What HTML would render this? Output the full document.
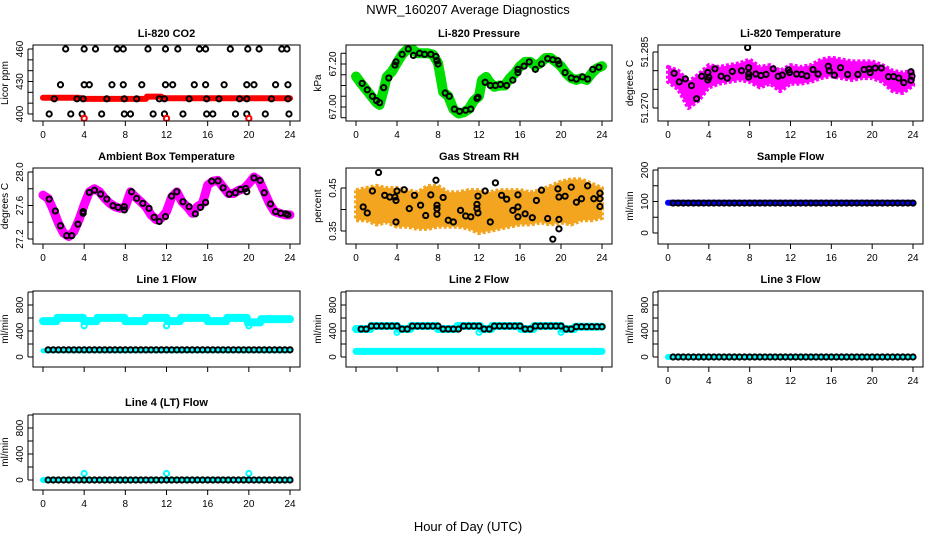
<!DOCTYPE html>
<html><head><meta charset="utf-8"><style>
body{margin:0;background:#fff}
svg{display:block;font-family:"Liberation Sans",sans-serif}
</style></head><body>
<svg id="c" width="936" height="540" viewBox="0 0 936 540"></svg>
<script>
// ---------- data ----------
const H=[0.5,1,1.5,2,2.5,3,3.5,4,4.5,5,5.5,6,6.5,7,7.5,8,8.5,9,9.5,10,10.5,11,11.5,12,12.5,13,13.5,14,14.5,15,15.5,16,16.5,17,17.5,18,18.5,19,19.5,20,20.5,21,21.5,22,22.5,23,23.5,24];
// CO2
const co2RedHours=[0,3.5,4,10,10.1,11.5,11.6,24];
const co2RedVals=[415,415,414,414,416,416,414.5,414.5];
const co2BlkHours=[2.2,4.0,5.1,7.2,7.8,10.2,11.9,13.1,15.2,15.8,18.2,19.9,21.0,23.2,23.7,1.7,4.0,4.5,6.7,7.8,9.6,11.9,12.6,14.7,15.8,17.6,19.8,20.5,22.6,23.8,1.1,3.3,3.9,6.2,7.9,9.1,11.3,11.8,14.2,15.9,17.1,19.1,19.8,22.2,23.8,0.6,2.7,3.8,5.7,7.9,8.5,10.7,11.8,13.6,15.9,16.5,18.7,19.8,21.6,23.9];
const co2BlkVals=[460,460,460,460,460,460,460,460,460,460,460,460,460,460,460,427,427,427,427,427,427,427,427,427,427,427,427,427,427,427,414,414,414,414,414,414,414,414,414,414,414,414,414,414,414,400,400,400,400,400,400,400,400,400,400,400,400,400,400,400];
const co2OutHours=[4,12,20];
const co2OutVals=[396,396,396];
// Pressure
const prHours=[0,0.5,1,1.5,2,2.3,2.7,3,3.5,4,4.5,5,5.5,6,6.5,7,7.5,8,8.3,8.5,9,9.5,10,10.5,11,11.5,12,12.3,12.7,13,13.5,14,14.5,15,15.5,16,16.5,17,17.5,18,18.5,19,19.5,20,20.5,21,21.5,22,22.5,23,23.5,24];
const prVals=[67.142,67.11,67.08,67.05,67.02,67.01,67.08,67.14,67.165,67.205,67.244,67.268,67.268,67.25,67.25,67.25,67.244,67.205,67.126,67.07,67.05,66.99,66.97,66.975,66.99,67.03,67.05,67.126,67.14,67.118,67.094,67.10,67.10,67.134,67.157,67.19,67.21,67.21,67.19,67.205,67.228,67.228,67.21,67.19,67.157,67.134,67.126,67.134,67.126,67.157,67.18,67.19];
const prBlkHours=[0.6,1.1,1.6,2.0,2.3,2.7,3.2,3.8,3.9,4.5,5.1,5.6,6.2,6.7,7.3,7.8,7.9,8.0,8.7,9.1,9.6,10.1,10.7,11.2,11.8,11.9,12.6,13.1,13.6,14.1,14.7,15.3,15.8,15.8,16.4,16.9,17.5,18.1,18.7,19.2,19.7,19.8,20.4,21.0,21.5,22.1,22.6,23.1,23.7];
const prBlkVals=[67.11,67.08,67.05,67.03,67.02,67.09,67.135,67.195,67.21,67.245,67.27,67.24,67.25,67.245,67.245,67.235,67.215,67.20,67.065,67.05,66.99,66.98,66.985,66.99,67.04,67.045,67.115,67.1,67.1,67.105,67.1,67.125,67.16,67.175,67.19,67.21,67.175,67.2,67.225,67.22,67.215,67.20,67.16,67.135,67.13,67.14,67.13,67.175,67.185];
// Li-820 temperature
const tHours=[0,1,2,3,4,5,6,7,8,9,10,11,12,13,14,15,16,17,18,19,20,21,22,23,24];
const tHi=[51.2810,51.2800,51.2770,51.2790,51.2815,51.2810,51.2815,51.2820,51.2830,51.2810,51.2815,51.2800,51.2815,51.2810,51.2815,51.2830,51.2835,51.2830,51.2825,51.2825,51.2825,51.2815,51.2800,51.2795,51.2800];
const tLo=[51.2770,51.2750,51.2700,51.2720,51.2755,51.2765,51.2770,51.2775,51.2770,51.2755,51.2765,51.2745,51.2765,51.2765,51.2770,51.2780,51.2785,51.2780,51.2775,51.2780,51.2780,51.2770,51.2745,51.2740,51.2760];
const tBlkHours=[0.6,1.1,1.7,2.3,2.8,3.3,3.9,3.9,4.0,4.6,5.2,5.8,6.3,7.2,7.8,7.9,7.9,7.9,8.6,9.1,9.6,10.3,10.8,11.2,11.8,11.9,12.6,13.1,13.6,14.2,14.7,15.7,15.8,16.3,16.9,17.6,18.6,19.2,19.7,19.8,20.3,20.9,21.6,22.1,22.6,23.1,23.8,23.9,23.8];
const tBlkVals=[51.2793,51.2770,51.2778,51.2760,51.2725,51.2785,51.2775,51.2795,51.2782,51.2805,51.2785,51.2780,51.2798,51.2800,51.2862,51.2808,51.2791,51.2783,51.2791,51.2787,51.2790,51.2805,51.2785,51.2788,51.2802,51.2795,51.2791,51.2790,51.2786,51.2803,51.2791,51.2812,51.2800,51.2788,51.2808,51.2790,51.2790,51.2803,51.2805,51.2795,51.2807,51.2807,51.2784,51.2784,51.2780,51.2768,51.2797,51.2785,51.2774];
// Ambient box temperature
const abHours=[0,0.5,1,1.5,2,2.5,3,3.5,4,4.5,5,5.5,6,6.5,7,7.5,8,8.5,9,9.5,10,10.5,11,11.5,12,12.5,13,13.5,14,14.5,15,15.5,16,16.5,17,17.5,18,18.5,19,19.5,20,20.5,21,21.5,22,22.5,23,23.5,24];
const abVals=[27.724,27.685,27.547,27.389,27.27,27.23,27.29,27.43,27.606,27.763,27.80,27.763,27.685,27.626,27.586,27.566,27.586,27.763,27.70,27.645,27.586,27.488,27.43,27.45,27.527,27.70,27.763,27.645,27.586,27.507,27.586,27.626,27.842,27.89,27.90,27.82,27.744,27.744,27.78,27.80,27.862,27.94,27.90,27.763,27.626,27.527,27.507,27.488,27.488];
const abBlkHours=[0.6,1.2,1.7,2.3,2.8,3.4,3.9,3.9,4.5,5.0,5.6,6.2,6.8,7.3,7.9,7.9,8.6,9.1,9.7,10.3,10.8,11.3,11.9,12.5,13.0,13.6,14.2,14.8,15.3,15.8,16.4,17.0,17.5,18.1,18.7,19.2,19.7,19.8,20.5,21.1,21.5,22.1,22.6,23.1,23.6,23.8];
const abBlkVals=[27.677,27.535,27.358,27.24,27.24,27.377,27.527,27.507,27.756,27.783,27.736,27.677,27.598,27.578,27.586,27.547,27.764,27.685,27.626,27.566,27.46,27.409,27.468,27.712,27.764,27.645,27.586,27.50,27.578,27.637,27.89,27.894,27.811,27.736,27.752,27.791,27.803,27.764,27.929,27.90,27.752,27.618,27.527,27.507,27.50,27.488];
// Gas stream RH
const rhHours=[0,1,2,3,4,5,6,7,8,9,10,11,12,13,14,15,16,17,18,19,20,21,22,23,24];
const rhHi=[0.445,0.450,0.455,0.450,0.450,0.445,0.440,0.455,0.455,0.440,0.440,0.445,0.445,0.440,0.445,0.445,0.445,0.440,0.445,0.455,0.465,0.470,0.470,0.460,0.450];
const rhLo=[0.375,0.375,0.365,0.370,0.360,0.360,0.355,0.355,0.360,0.360,0.360,0.355,0.345,0.350,0.355,0.360,0.365,0.365,0.370,0.365,0.370,0.365,0.375,0.375,0.380];
const rhBlkHours=[0.7,1.1,1.6,2.2,2.8,3.3,3.8,3.9,3.9,4.0,4.7,5.2,5.7,6.3,6.8,7.3,7.8,7.9,7.9,7.9,8.5,9.0,9.5,10.2,10.7,11.2,11.8,11.8,11.9,11.9,12.6,13.1,13.6,14.2,14.7,15.3,15.8,15.8,15.8,16.5,17.2,17.6,18.1,18.7,19.2,19.7,19.8,19.8,19.8,20.4,21.0,21.5,22.0,22.6,23.2,23.8,23.8,23.8];
const rhBlkVals=[0.406,0.392,0.443,0.486,0.433,0.429,0.429,0.421,0.371,0.443,0.446,0.402,0.433,0.410,0.386,0.434,0.468,0.410,0.402,0.389,0.428,0.375,0.371,0.398,0.385,0.383,0.412,0.402,0.392,0.431,0.443,0.371,0.462,0.433,0.424,0.398,0.434,0.406,0.383,0.390,0.381,0.421,0.445,0.379,0.331,0.448,0.429,0.377,0.355,0.431,0.452,0.417,0.425,0.455,0.425,0.425,0.407,0.438];
// Sample flow
const sfBlueHours=[0,24];
const sfBlueVals=[96,96];
const sfBlkVals=[95,95,95,95,95,95,95,95,95,95,95,95,95,95,95,95,95,95,95,95,95,95,95,95,95,95,95,95,95,95,95,95,95,95,95,95,95,95,95,95,95,95,95,95,95,95,95,95];
// Line 1 flow
const l1Hours=[0,1.3,1.4,3.9,4.0,5.2,5.3,7.9,8.0,9.9,10.0,12.0,12.1,13.3,13.4,15.9,16.0,17.8,17.9,19.8,19.9,21.1,21.2,24];
const l1Vals=[552,552,602,602,552,552,602,602,552,552,602,602,552,552,602,602,552,552,602,602,532,532,582,582];
const l1LowHours=[0,24];
const l1LowVals=[96,96];
const l1BlkVals=[110,110,110,110,110,110,110,110,110,110,110,110,110,110,110,110,110,110,110,110,110,110,110,110,110,110,110,110,110,110,110,110,110,110,110,110,110,110,110,110,110,110,110,110,110,110,110,110];
const l1OutHours=[4,12,20];
const l1OutVals=[480,480,480];
// Line 2 flow
const l2Hours=[0,1.4,1.5,4.0,4.1,5.3,5.4,7.9,8.0,9.8,9.9,12.1,12.2,13.2,13.3,16.0,16.1,17.3,17.4,20.0,20.1,21.3,21.4,24];
const l2Vals=[430,430,476,476,430,430,476,476,430,430,476,476,430,430,476,476,430,430,476,476,430,430,466,466];
const l2LowHours=[0,24];
const l2LowVals=[86,86];
const l2BlkVals=[430,430,476,476,476,476,476,476,430,430,476,476,476,476,476,476,430,430,430,430,476,476,476,476,430,430,476,476,476,476,476,476,430,430,476,476,476,476,476,476,430,430,466,466,466,466,466,466];
const l2OutHours=[4,12,20];
const l2OutVals=[380,380,380];
// Line 3 / Line 4
const zeroHours=[0,24];
const zeroVals=[0,0];
const l3BlkVals=[0,0,0,0,0,0,0,0,0,0,0,0,0,0,0,0,0,0,0,0,0,0,0,0,0,0,0,0,0,0,0,0,0,0,0,0,0,0,0,0,0,0,0,0,0,0,0,0];
const l4BlkVals=[0,0,0,0,0,0,0,0,0,0,0,0,0,0,0,0,0,0,0,0,0,0,0,0,0,0,0,0,0,0,0,0,0,0,0,0,0,0,0,0,0,0,0,0,0,0,0,0];
const l4OutHours=[4,12,20];
const l4OutVals=[100,100,100];
const xTicks=[0,4,8,12,16,20,24];

// ---------- drawing ----------
const NS='http://www.w3.org/2000/svg';
const svg=document.getElementById('c');
function mk(tag,attrs,parent){const e=document.createElementNS(NS,tag);for(const k in attrs)e.setAttribute(k,attrs[k]);(parent||svg).appendChild(e);return e;}
const cols=[[33,300],[346,612],[658,923]];
const rows=[[45,121],[168,244],[291,367],[414,490]];
let clipN=0;
function panel(c,r,title,ylab,ySpec,opts){
  const [L,R]=cols[c],[T,B]=rows[r];
  const g=mk('g',{});
  
  
  const xs=h=>L+10+h*(R-L-20)/24;
  const ys=v=>ySpec.p1+(v-ySpec.v1)*(ySpec.p2-ySpec.p1)/(ySpec.v2-ySpec.v1)+T;
  const id='cl'+(clipN++);
  const cp=mk('clipPath',{id:id},g);mk('rect',{x:L,y:T,width:R-L,height:B-T},cp);
  const plot=mk('g',{'clip-path':'url(#'+id+')'},g);
  
  
  const api={
    line(hs,vs,color,w,name){const p=mk('polyline',{points:hs.map((h,i)=>xs(h)+','+ys(vs[i])).join(' '),fill:'none',stroke:color,'stroke-width':w,'stroke-linejoin':'round','stroke-linecap':'round'},plot);
      
      },
    band(hs,lo,hi,color,name){const pts=hs.map((h,i)=>xs(h)+','+ys(hi[i])).concat(hs.slice().reverse().map((h,i)=>xs(h)+','+ys(lo[hs.length-1-i])));
      const p=mk('polygon',{points:pts.join(' '),fill:color,stroke:color,'stroke-width':4,'stroke-linejoin':'round','stroke-dasharray':'3 2'},plot);
      
      },
    pts(hs,vs,color,name,rr,sw){const gg=mk('g',{},plot);
      
      
      hs.forEach((h,i)=>{const e=mk('circle',{cx:xs(h),cy:ys(vs[i]),r:rr||2.6,fill:'none',stroke:color,'stroke-width':sw||2},gg);
        
        });}
  };
  opts.draw(api);
  const bx=mk('rect',{x:L,y:T,width:R-L,height:B-T,fill:'none',stroke:'#000','stroke-width':1},g);
  
  
  const xa=mk('g',{},g);
  
  
  xTicks.forEach(t=>{mk('line',{x1:xs(t),x2:xs(t),y1:B,y2:B+5,stroke:'#000'},xa);
    if(opts.xlabels){const tx=mk('text',{x:xs(t),y:B+17,'text-anchor':'middle','font-size':10},xa);tx.textContent=t;
      
      }});
  const ya=mk('g',{},g);
  
  
  const tk=ySpec.ticks;
  mk('line',{x1:L-5,x2:L-5,y1:ys(tk[0]),y2:ys(tk[tk.length-1]),stroke:'#000'},ya);
  tk.forEach(t=>mk('line',{x1:L-5,x2:L,y1:ys(t),y2:ys(t),stroke:'#000'},ya));
  ySpec.labels.forEach((lab,i)=>{const y=ys(ySpec.labelVals[i]);const tx=mk('text',{x:L-10,y:y,'text-anchor':'middle','font-size':10,transform:'rotate(-90 '+(L-10)+' '+y+')'},ya);tx.textContent=lab;
    
    });
  const ym=(T+B)/2;
  const yt=mk('text',{x:L-25,y:ym,'text-anchor':'middle','font-size':10,transform:'rotate(-90 '+(L-25)+' '+ym+')'},g);yt.textContent=ylab;
  
  
  const tt=mk('text',{x:(L+R)/2,y:T-8,'text-anchor':'middle','font-size':11,'font-weight':'bold'},g);tt.textContent=title;
  
  
}
const flowSpec=(z)=>({v1:0,p1:z,v2:800,p2:z-52,ticks:[0,200,400,600,800,1000],labels:['0','400','800'],labelVals:[0,400,800]});
const CY='#00ffff';
panel(0,0,'Li-820 CO2','Licor ppm',{v1:400,p1:69,v2:460,p2:4,ticks:[400,410,420,430,440,450,460],labels:['400','430','460'],labelVals:[400,430,460]},{xlabels:true,draw:a=>{
  a.line(co2RedHours,co2RedVals,'#ff0000',6,'co2-red-series');
  a.pts(co2BlkHours,co2BlkVals,'#000','co2-black-points');
  a.pts(co2OutHours,co2OutVals,'#ff0000','co2-red-outliers');}});
panel(1,0,'Li-820 Pressure','kPa',{v1:67.00,p1:62,v2:67.20,p2:19,ticks:[66.95,67.00,67.05,67.10,67.15,67.20,67.25],labels:['67.00','67.20'],labelVals:[67.00,67.20]},{xlabels:true,draw:a=>{
  a.line(prHours,prVals,'#00dd00',10,'pressure-green-series');
  a.pts(prBlkHours,prBlkVals,'#000','pressure-black-points');}});
panel(2,0,'Li-820 Temperature','degrees C',{v1:51.270,p1:63,v2:51.285,p2:7,ticks:[51.270,51.275,51.280,51.285],labels:['51.270','51.285'],labelVals:[51.270,51.285]},{xlabels:true,draw:a=>{
  a.band(tHours,tLo,tHi,'#ff00ff','temperature-magenta-cloud');
  a.pts(tBlkHours,tBlkVals,'#000','temperature-black-points');}});
panel(0,1,'Ambient Box Temperature','degrees C',{v1:27.2,p1:71,v2:28.0,p2:4,ticks:[27.2,27.4,27.6,27.8,28.0],labels:['27.2','27.6','28.0'],labelVals:[27.2,27.6,28.0]},{xlabels:true,draw:a=>{
  a.line(abHours,abVals,'#ff00ff',9,'ambient-magenta-series');
  a.pts(abBlkHours,abBlkVals,'#000','ambient-black-points');}});
panel(1,1,'Gas Stream RH','percent',{v1:0.35,p1:63,v2:0.45,p2:20,ticks:[0.35,0.40,0.45],labels:['0.35','0.45'],labelVals:[0.35,0.45]},{xlabels:true,draw:a=>{
  a.band(rhHours,rhLo,rhHi,'#f3a520','rh-orange-cloud');
  a.pts(rhBlkHours,rhBlkVals,'#000','rh-black-points');}});
panel(2,1,'Sample Flow','ml/min',{v1:0,p1:65,v2:200,p2:2,ticks:[0,50,100,150,200],labels:['0','100','200'],labelVals:[0,100,200]},{xlabels:true,draw:a=>{
  a.line(sfBlueHours,sfBlueVals,'#0000ff',6,'sample-flow-blue-series');
  a.pts(H,sfBlkVals,'#000','sample-flow-black-points');}});
panel(0,2,'Line 1 Flow','ml/min',flowSpec(66),{xlabels:false,draw:a=>{
  a.line(l1Hours,l1Vals,CY,8,'line1-cyan-upper');
  a.line(l1LowHours,l1LowVals,CY,5,'line1-cyan-lower');
  a.pts(l1OutHours,l1OutVals,CY,'line1-cyan-outliers');
  a.pts(H,l1BlkVals,'#000','line1-black-points');}});
panel(1,2,'Line 2 Flow','ml/min',flowSpec(66),{xlabels:false,draw:a=>{
  a.line(l2Hours,l2Vals,CY,8,'line2-cyan-upper');
  a.line(l2LowHours,l2LowVals,CY,7,'line2-cyan-lower');
  a.pts(l2OutHours,l2OutVals,CY,'line2-cyan-outliers');
  a.pts(H,l2BlkVals,'#000','line2-black-points');}});
panel(2,2,'Line 3 Flow','ml/min',flowSpec(66),{xlabels:true,draw:a=>{
  a.line(zeroHours,zeroVals,CY,6,'line3-cyan-series');
  a.pts(H,l3BlkVals,'#000','line3-black-points');}});
panel(0,3,'Line 4 (LT) Flow','ml/min',flowSpec(66),{xlabels:true,draw:a=>{
  a.line(zeroHours,zeroVals,CY,6,'line4-cyan-series');
  a.pts(l4OutHours,l4OutVals,CY,'line4-cyan-outliers');
  a.pts(H,l4BlkVals,'#000','line4-black-points');}});
</script>
<script>
(function(){const NS='http://www.w3.org/2000/svg';const s=document.getElementById('c');
const t=document.createElementNS(NS,'text');t.setAttribute('x',468);t.setAttribute('y',14);t.setAttribute('text-anchor','middle');t.setAttribute('font-size',13);t.textContent='NWR_160207  Average Diagnostics';t.setAttribute('xml:space','preserve');


s.appendChild(t);
const x=document.createElementNS(NS,'text');x.setAttribute('x',468);x.setAttribute('y',531);x.setAttribute('text-anchor','middle');x.setAttribute('font-size',13);x.textContent='Hour of Day (UTC)';


s.appendChild(x);})();
</script>
</body></html>
